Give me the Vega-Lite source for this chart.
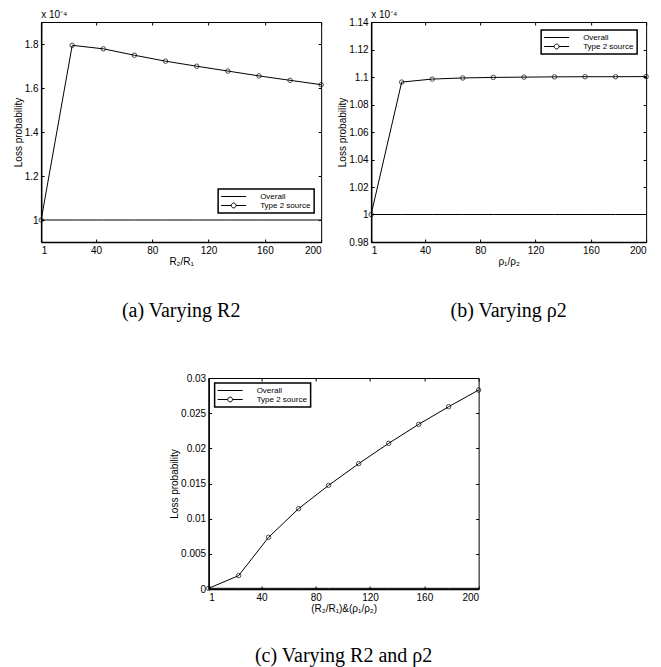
{
  "$schema": "https://vega.github.io/schema/vega-lite/v6.json",
  "padding": {"left": 12, "top": 9, "right": 5, "bottom": 0},
  "background": "white",
  "config": {
    "view": {"stroke": "black", "strokeWidth": 1},
    "font": "Liberation Sans",
    "axis": {"grid": false, "domainColor": "black", "domainWidth": 1.5, "tickColor": "black", "tickSize": -3, "tickWidth": 1, "labelPadding": 6, "labelFontSize": 10, "labelColor": "black", "labelFont": "Liberation Sans", "titleFontSize": 10, "titleFontWeight": "normal", "titleColor": "black", "titleFont": "Liberation Sans"},
    "legend": {"orient": "none", "symbolSize": 64, "labelFontSize": 8, "labelFont": "Liberation Sans", "labelColor": "black", "strokeColor": "black", "fillColor": "white", "padding": 3, "rowPadding": 0, "symbolOffset": 8, "labelOffset": 22, "symbolStrokeWidth": 1, "symbolStrokeColor": "black"},
    "title": {"font": "Liberation Serif", "fontSize": 20, "fontWeight": "normal", "orient": "bottom", "offset": 35, "color": "black"}
  },
  "datasets": {
    "a": [
      {"x": 1, "series": "Overall", "y": 0.0001},
      {"x": 23.1, "series": "Overall", "y": 0.0001},
      {"x": 45.2, "series": "Overall", "y": 0.0001},
      {"x": 67.3, "series": "Overall", "y": 0.0001},
      {"x": 89.4, "series": "Overall", "y": 0.0001},
      {"x": 111.6, "series": "Overall", "y": 0.0001},
      {"x": 133.7, "series": "Overall", "y": 0.0001},
      {"x": 155.8, "series": "Overall", "y": 0.0001},
      {"x": 177.9, "series": "Overall", "y": 0.0001},
      {"x": 200, "series": "Overall", "y": 0.0001},
      {"x": 1, "series": "Type 2 source", "y": 0.0001},
      {"x": 23.1, "series": "Type 2 source", "y": 0.0001794},
      {"x": 45.2, "series": "Type 2 source", "y": 0.0001778},
      {"x": 67.3, "series": "Type 2 source", "y": 0.0001749},
      {"x": 89.4, "series": "Type 2 source", "y": 0.0001722},
      {"x": 111.6, "series": "Type 2 source", "y": 0.0001699},
      {"x": 133.7, "series": "Type 2 source", "y": 0.0001677},
      {"x": 155.8, "series": "Type 2 source", "y": 0.0001655},
      {"x": 177.9, "series": "Type 2 source", "y": 0.0001635},
      {"x": 200, "series": "Type 2 source", "y": 0.0001615}
    ],
    "b": [
      {"x": 1, "series": "Overall", "y": 0.0001},
      {"x": 23.1, "series": "Overall", "y": 0.0001},
      {"x": 45.2, "series": "Overall", "y": 0.0001},
      {"x": 67.3, "series": "Overall", "y": 0.0001},
      {"x": 89.4, "series": "Overall", "y": 0.0001},
      {"x": 111.6, "series": "Overall", "y": 0.0001},
      {"x": 133.7, "series": "Overall", "y": 0.0001},
      {"x": 155.8, "series": "Overall", "y": 0.0001},
      {"x": 177.9, "series": "Overall", "y": 0.0001},
      {"x": 200, "series": "Overall", "y": 0.0001},
      {"x": 1, "series": "Type 2 source", "y": 0.0001},
      {"x": 23.1, "series": "Type 2 source", "y": 0.00010963},
      {"x": 45.2, "series": "Type 2 source", "y": 0.00010985},
      {"x": 67.3, "series": "Type 2 source", "y": 0.00010993},
      {"x": 89.4, "series": "Type 2 source", "y": 0.00010997},
      {"x": 111.6, "series": "Type 2 source", "y": 0.00010999},
      {"x": 133.7, "series": "Type 2 source", "y": 0.00011001},
      {"x": 155.8, "series": "Type 2 source", "y": 0.00011002},
      {"x": 177.9, "series": "Type 2 source", "y": 0.00011002},
      {"x": 200, "series": "Type 2 source", "y": 0.00011003}
    ],
    "c": [
      {"x": 1, "series": "Overall", "y": 0.0001},
      {"x": 23.1, "series": "Overall", "y": 0.0001},
      {"x": 45.2, "series": "Overall", "y": 0.0001},
      {"x": 67.3, "series": "Overall", "y": 0.0001},
      {"x": 89.4, "series": "Overall", "y": 0.0001},
      {"x": 111.6, "series": "Overall", "y": 0.0001},
      {"x": 133.7, "series": "Overall", "y": 0.0001},
      {"x": 155.8, "series": "Overall", "y": 0.0001},
      {"x": 177.9, "series": "Overall", "y": 0.0001},
      {"x": 200, "series": "Overall", "y": 0.0001},
      {"x": 1, "series": "Type 2 source", "y": 0.0001},
      {"x": 23.1, "series": "Type 2 source", "y": 0.0019},
      {"x": 45.2, "series": "Type 2 source", "y": 0.00735},
      {"x": 67.3, "series": "Type 2 source", "y": 0.01142},
      {"x": 89.4, "series": "Type 2 source", "y": 0.01474},
      {"x": 111.6, "series": "Type 2 source", "y": 0.01782},
      {"x": 133.7, "series": "Type 2 source", "y": 0.02071},
      {"x": 155.8, "series": "Type 2 source", "y": 0.02341},
      {"x": 177.9, "series": "Type 2 source", "y": 0.02592},
      {"x": 200, "series": "Type 2 source", "y": 0.02829}
    ]
  },
  "center": true,
  "spacing": 50,
  "resolve": {"scale": {"color": "independent"}, "legend": {"color": "independent"}},
  "vconcat": [
    {
      "bounds": "flush",
      "spacing": 50,
      "resolve": {"scale": {"color": "independent"}, "legend": {"color": "independent"}},
      "hconcat": [
        {
          "width": 280,
          "height": 220,
          "title": {"text": "(a) Varying R2"},
          "data": {"name": "a"},
          "resolve": {"axis": {"x": "independent", "y": "independent"}},
          "layer": [
            {
              "mark": {"type": "line", "strokeWidth": 1},
              "encoding": {
                "x": {"field": "x", "type": "quantitative", "scale": {"domain": [1, 200], "nice": false, "zero": false}, "axis": {"values": [1, 40, 80, 120, 160, 200], "title": "R₂/R₁", "titlePadding": 1}},
                "y": {"field": "y", "type": "quantitative", "scale": {"domain": [0.00009, 0.00019], "nice": false, "zero": false}, "axis": {"values": [0.0001, 0.00012, 0.00014, 0.00016, 0.00018], "labelExpr": "format(datum.value*10000, '.2~f')", "title": "Loss probability", "titlePadding": 1}},
                "color": {"field": "series", "type": "nominal", "scale": {"domain": ["Overall", "Type 2 source"], "range": ["black", "black"]},
                  "legend": {"title": null, "legendX": 177, "legendY": 167,
                    "encode": {
                      "symbols": {"update": {"shape": {"signal": "datum.value === 'Overall' ? 'M-3.125,0H3.125' : 'M-3.125,0H-0.6M0.6,0H3.125M-0.6,0A0.6,0.6,0,1,1,0.6,0A0.6,0.6,0,1,1,-0.6,0'"}, "fill": {"value": "transparent"}, "stroke": {"value": "black"}}},
                      "legend": {"update": {"strokeWidth": {"value": 1.5}}}
                    }}}
              }
            },
            {
              "transform": [{"filter": "datum.series === 'Type 2 source'"}],
              "mark": {"type": "point", "filled": false, "size": 20, "color": "black", "strokeWidth": 1},
              "encoding": {
                "x": {"field": "x", "type": "quantitative", "axis": null},
                "y": {"field": "y", "type": "quantitative", "axis": null}
              }
            },
            {
              "data": {"values": [{"label": "x 10⁻⁴"}]},
              "mark": {"type": "text", "align": "left", "baseline": "bottom", "dy": -2, "fontSize": 10, "font": "Liberation Sans", "color": "black"},
              "encoding": {
                "x": {"datum": 1, "type": "quantitative", "axis": null},
                "y": {"datum": 0.00019, "type": "quantitative", "axis": null},
                "text": {"field": "label"}
              }
            },
            {
              "mark": {"type": "line", "opacity": 0},
              "encoding": {
                "x": {"field": "x", "type": "quantitative", "axis": {"orient": "top", "labels": false, "domain": false, "title": null, "values": [1, 40, 80, 120, 160, 200]}},
                "y": {"field": "y", "type": "quantitative", "axis": {"orient": "right", "labels": false, "domain": false, "title": null, "values": [0.0001, 0.00012, 0.00014, 0.00016, 0.00018]}},
                "detail": {"field": "series"}
              }
            }
          ]
        },
        {
          "width": 275,
          "height": 220,
          "title": {"text": "(b) Varying ρ2"},
          "data": {"name": "b"},
          "resolve": {"axis": {"x": "independent", "y": "independent"}},
          "layer": [
            {
              "mark": {"type": "line", "strokeWidth": 1},
              "encoding": {
                "x": {"field": "x", "type": "quantitative", "scale": {"domain": [1, 200], "nice": false, "zero": false}, "axis": {"values": [1, 40, 80, 120, 160, 200], "title": "ρ₁/ρ₂", "titlePadding": 1}},
                "y": {"field": "y", "type": "quantitative", "scale": {"domain": [0.000098, 0.000114], "nice": false, "zero": false}, "axis": {"values": [0.000098, 0.0001, 0.000102, 0.000104, 0.000106, 0.000108, 0.00011, 0.000112, 0.000114], "labelExpr": "format(datum.value*10000, '.2~f')", "title": "Loss probability", "titlePadding": 1}},
                "color": {"field": "series", "type": "nominal", "scale": {"domain": ["Overall", "Type 2 source"], "range": ["black", "black"]},
                  "legend": {"title": null, "legendX": 170, "legendY": 8,
                    "encode": {
                      "symbols": {"update": {"shape": {"signal": "datum.value === 'Overall' ? 'M-3.125,0H3.125' : 'M-3.125,0H-0.6M0.6,0H3.125M-0.6,0A0.6,0.6,0,1,1,0.6,0A0.6,0.6,0,1,1,-0.6,0'"}, "fill": {"value": "transparent"}, "stroke": {"value": "black"}}},
                      "legend": {"update": {"strokeWidth": {"value": 1.5}}}
                    }}}
              }
            },
            {
              "transform": [{"filter": "datum.series === 'Type 2 source'"}],
              "mark": {"type": "point", "filled": false, "size": 20, "color": "black", "strokeWidth": 1},
              "encoding": {
                "x": {"field": "x", "type": "quantitative", "axis": null},
                "y": {"field": "y", "type": "quantitative", "axis": null}
              }
            },
            {
              "data": {"values": [{"label": "x 10⁻⁴"}]},
              "mark": {"type": "text", "align": "left", "baseline": "bottom", "dy": -2, "fontSize": 10, "font": "Liberation Sans", "color": "black"},
              "encoding": {
                "x": {"datum": 1, "type": "quantitative", "axis": null},
                "y": {"datum": 0.000114, "type": "quantitative", "axis": null},
                "text": {"field": "label"}
              }
            },
            {
              "mark": {"type": "line", "opacity": 0},
              "encoding": {
                "x": {"field": "x", "type": "quantitative", "axis": {"orient": "top", "labels": false, "domain": false, "title": null, "values": [1, 40, 80, 120, 160, 200]}},
                "y": {"field": "y", "type": "quantitative", "axis": {"orient": "right", "labels": false, "domain": false, "title": null, "values": [0.000098, 0.0001, 0.000102, 0.000104, 0.000106, 0.000108, 0.00011, 0.000112, 0.000114]}},
                "detail": {"field": "series"}
              }
            }
          ]
        }
      ]
    },
    {
      "width": 270,
      "height": 211,
      "title": {"text": "(c) Varying R2 and ρ2", "offset": 33},
      "data": {"name": "c"},
      "resolve": {"axis": {"x": "independent", "y": "independent"}},
      "layer": [
        {
          "mark": {"type": "line", "strokeWidth": 1},
          "encoding": {
            "x": {"field": "x", "type": "quantitative", "scale": {"domain": [1, 200], "nice": false, "zero": false}, "axis": {"values": [1, 40, 80, 120, 160, 200], "title": "(R₂/R₁)&(ρ₁/ρ₂)", "titlePadding": 1}},
            "y": {"field": "y", "type": "quantitative", "scale": {"domain": [0, 0.03], "nice": false, "zero": false}, "axis": {"values": [0, 0.005, 0.01, 0.015, 0.02, 0.025, 0.03], "format": ".3~f", "title": "Loss probability", "titlePadding": 1}},
            "color": {"field": "series", "type": "nominal", "scale": {"domain": ["Overall", "Type 2 source"], "range": ["black", "black"]},
              "legend": {"title": null, "legendX": 6, "legendY": 5,
                "encode": {
                  "symbols": {"update": {"shape": {"signal": "datum.value === 'Overall' ? 'M-3.125,0H3.125' : 'M-3.125,0H-0.6M0.6,0H3.125M-0.6,0A0.6,0.6,0,1,1,0.6,0A0.6,0.6,0,1,1,-0.6,0'"}, "fill": {"value": "transparent"}, "stroke": {"value": "black"}}},
                  "legend": {"update": {"strokeWidth": {"value": 1.5}}}
                }}}
          }
        },
        {
          "transform": [{"filter": "datum.series === 'Type 2 source'"}],
          "mark": {"type": "point", "filled": false, "size": 20, "color": "black", "strokeWidth": 1},
          "encoding": {
            "x": {"field": "x", "type": "quantitative", "axis": null},
            "y": {"field": "y", "type": "quantitative", "axis": null}
          }
        },
        {
          "mark": {"type": "line", "opacity": 0},
          "encoding": {
            "x": {"field": "x", "type": "quantitative", "axis": {"orient": "top", "labels": false, "domain": false, "title": null, "values": [1, 40, 80, 120, 160, 200]}},
            "y": {"field": "y", "type": "quantitative", "axis": {"orient": "right", "labels": false, "domain": false, "title": null, "values": [0, 0.005, 0.01, 0.015, 0.02, 0.025, 0.03]}},
            "detail": {"field": "series"}
          }
        }
      ]
    }
  ]
}
